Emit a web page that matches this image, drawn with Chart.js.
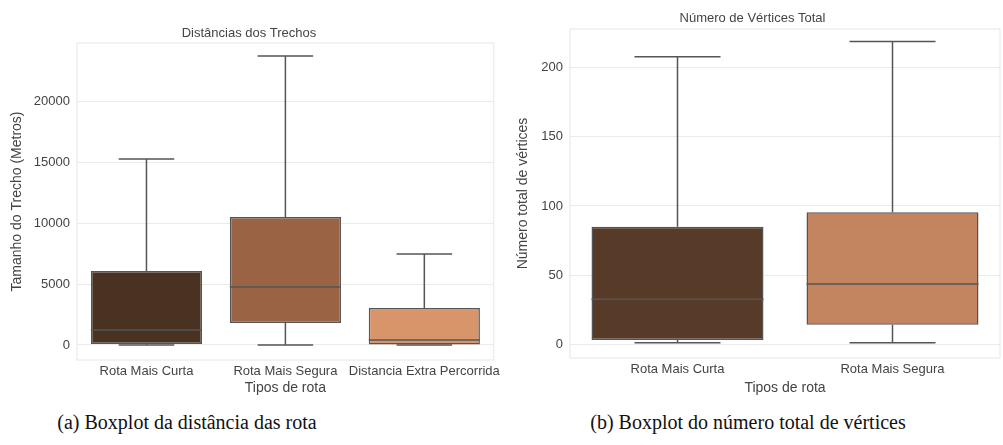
<!DOCTYPE html>
<html>
<head>
<meta charset="utf-8">
<script src="https://cdn.jsdelivr.net/npm/chart.js@4/dist/chart.umd.min.js"></script>
<style>
  body { margin: 0; background: #fff; width: 1003px; height: 445px; position: relative; overflow: hidden; }
  .wrap { position: absolute; top: 0; height: 400px; }
  .cap { position: absolute; top: 411px; font-family: "Liberation Serif", serif; font-size: 20px; color: #111; white-space: nowrap; transform: translateX(-50%); }
</style>
</head>
<body>
<div class="wrap" style="left:0;width:505px"><canvas id="dist"></canvas></div>
<div class="wrap" style="left:505px;width:498px"><canvas id="vert"></canvas></div>
<div class="cap" id="capA" style="left:187px">(a) Boxplot da distância das rota</div>
<div class="cap" id="capB" style="left:748px">(b) Boxplot do número total de vértices</div>
<script>
console.log('boxplots')
// --- left panel: distancias dos trechos
const distLabels = ['Rota Mais Curta', 'Rota Mais Segura', 'Distancia Extra Percorrida'];
const distMin = [0, 0, 0];
const distQ1 = [80, 1800, 0];
const distMed = [1230, 4750, 400];
const distQ3 = [6070, 10490, 3030];
const distMax = [15250, 23690, 7460];
const distTicks = [0, 5000, 10000, 15000, 20000];
const distColors = ['#4a3222', '#9a6444', '#d9956a'];

// --- right panel: numero de vertices
const vertLabels = ['Rota Mais Curta', 'Rota Mais Segura'];
const vertMin = [1, 1];
const vertQ1 = [3, 14];
const vertMed = [32.5, 43.5];
const vertQ3 = [85, 95.5];
const vertMax = [208, 219];
const vertTicks = [0, 50, 100, 150, 200];
const vertColors = ['#573a27', '#c28560'];

const lineGray = '#555555';
const tickFont = { family: 'Liberation Sans, Arial, sans-serif', size: 13 };
const labFont = { family: 'Liberation Sans, Arial, sans-serif', size: 14 };

// whiskers, caps and medians drawn through the scales
const boxExtras = {
    id: 'boxExtras',
    beforeDatasetsDraw(chart) {
        const a = chart.chartArea;
        const ctx = chart.ctx;
        ctx.save();
        ctx.strokeStyle = '#e6e6e6';
        ctx.lineWidth = 1;
        ctx.strokeRect(a.left, a.top, a.right - a.left, a.bottom - a.top);
        ctx.restore();
    },
    afterDatasetsDraw(chart, args, opts) {
        const ctx = chart.ctx;
        const y = chart.scales.y;
        const meta = chart.getDatasetMeta(0);
        ctx.save();
        ctx.strokeStyle = lineGray;
        ctx.lineWidth = 1.5;
        meta.data.forEach((bar, i) => {
            const x = bar.x;
            const w = bar.width;
            const pMin = y.getPixelForValue(opts.min[i]);
            const pQ1 = y.getPixelForValue(opts.q1[i]);
            const pMed = y.getPixelForValue(opts.med[i]);
            const pQ3 = y.getPixelForValue(opts.q3[i]);
            const pMax = y.getPixelForValue(opts.max[i]);
            ctx.beginPath();
            ctx.moveTo(x, pQ3); ctx.lineTo(x, pMax);
            ctx.moveTo(x - w / 4, pMax); ctx.lineTo(x + w / 4, pMax);
            ctx.moveTo(x, pQ1); ctx.lineTo(x, pMin);
            ctx.moveTo(x - w / 4, pMin); ctx.lineTo(x + w / 4, pMin);
            ctx.moveTo(x - w / 2, pMed); ctx.lineTo(x + w / 2, pMed);
            ctx.stroke();
        });
        ctx.restore();
    }
};

function makeBox(id, labels, mn, q1, med, q3, mx, ticks, colors, o) {
    const config = {
        type: 'bar',
        data: {
            labels: labels,
            datasets: [{
                data: labels.map((l, i) => [q1[i], q3[i]]),
                backgroundColor: colors,
                borderColor: lineGray,
                borderWidth: 1.5,
                borderSkipped: false,
                categoryPercentage: 1,
                barPercentage: 0.8
            }]
        },
        options: {
            responsive: true,
            maintainAspectRatio: false,
            animation: false,
            layout: { padding: { right: o.padRight, left: 0, top: 0, bottom: 0 } },
            plugins: {
                legend: { display: false },
                tooltip: { enabled: false },
                title: {
                    display: true,
                    text: o.title,
                    color: '#444',
                    font: { ...labFont, weight: 'normal', size: 13 },
                    padding: { top: o.titleTop, bottom: o.titleBottom }
                },
                boxExtras: { min: mn, q1: q1, med: med, q3: q3, max: mx }
            },
            scales: {
                x: {
                    grid: { display: false, drawTicks: false },
                    border: { display: false },
                    ticks: { color: '#444', font: tickFont, padding: 4, maxRotation: 0, autoSkip: false },
                    title: { display: true, text: 'Tipos de rota', color: '#444', font: labFont, padding: { top: 0, bottom: 3 } },
                    afterFit: (s) => { s.height = o.xHeight; }
                },
                y: {
                    min: o.yMin,
                    max: o.yMax,
                    grid: { color: '#ebebeb', drawTicks: false },
                    border: { display: false },
                    ticks: { color: '#444', font: tickFont, padding: 7, callback: (v) => String(v) },
                    afterBuildTicks: (s) => { s.ticks = ticks.map(v => ({ value: v })); },
                    title: { display: true, text: o.yTitle, color: '#444', font: labFont, padding: { top: o.yTitlePad, bottom: 0 } },
                    afterFit: (s) => { s.width = o.yWidth; }
                }
            }
        },
        plugins: [boxExtras]
    };
    return new Chart(id, config);
}

makeBox('dist', distLabels, distMin, distQ1, distMed, distQ3, distMax, distTicks, distColors, {
    title: 'Distâncias dos Trechos', titleTop: 26, titleBottom: 1.4,
    yTitle: 'Tamanho do Trecho (Metros)', yTitlePad: 9,
    yMin: -1230, yMax: 24760,
    yWidth: 77, xHeight: 40, padRight: 7
});

makeBox('vert', vertLabels, vertMin, vertQ1, vertMed, vertQ3, vertMax, vertTicks, vertColors, {
    title: 'Número de Vértices Total', titleTop: 11, titleBottom: 2.4,
    yTitle: 'Número total de vértices', yTitlePad: 10,
    yMin: -10, yMax: 228,
    yWidth: 65, xHeight: 42, padRight: 3
});
</script>
</body>
</html>
